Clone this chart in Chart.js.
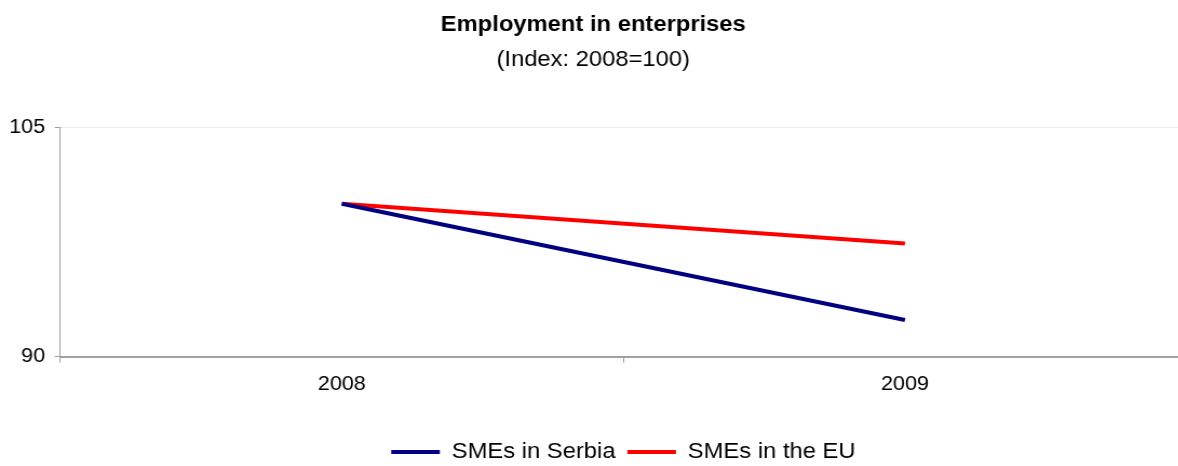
<!DOCTYPE html>
<html>
<head>
<meta charset="utf-8">
<script src="https://cdn.jsdelivr.net/npm/chart.js@4"></script>
<style>
  html, body { margin: 0; padding: 0; background: #fff; overflow: hidden; }
  #wrap { width: 1102px; height: 466px; transform: scaleX(1.08); transform-origin: 0 0; }
</style>
</head>
<body>
<div id="wrap"><canvas id="chart"></canvas></div>
<script>
/* ---------------- data ---------------- */
const years = ['2008', '2009'];
const serbia = [100, 92.4];
const eu = [100, 97.4];
const yTicks = [90, 105];

const font = "'Liberation Sans', Arial, sans-serif";
const ctx = document.getElementById('chart').getContext('2d');

const data = {
    labels: years,
    datasets: [
    {
        label: 'SMEs in Serbia',
        data: serbia,
        borderColor: '#000080',
        backgroundColor: '#000080',
        borderWidth: 4,
        pointRadius: 0,
        tension: 0
    },
    {
        label: 'SMEs in the EU',
        data: eu,
        borderColor: '#ff0000',
        backgroundColor: '#ff0000',
        borderWidth: 4,
        pointRadius: 0,
        tension: 0
    }]
};

const config = {
    type: 'line',
    data: data,
    options: {
        responsive: true,
        maintainAspectRatio: false,
        animation: false,
        layout: { padding: { left: 0, right: 3.4, top: 0, bottom: -7 } },
        scales: {
            x: {
                offset: true,
                afterFit: (s) => { s.height = 73.3; },
                grid: {
                    offset: true,
                    drawOnChartArea: false,
                    tickLength: 6,
                    tickColor: '#a0a0a0'
                },
                border: { color: '#a0a0a0', width: 2 },
                ticks: { color: '#000', padding: 10, font: { family: font, size: 20 } }
            },
            y: {
                min: 90,
                max: 105,
                afterBuildTicks: (axis) => { axis.ticks = yTicks.map(v => ({ value: v })); },
                afterFit: (s) => { s.width = 55.8; },
                grid: {
                    color: (c) => c.tick && c.tick.value === 105 ? '#eeeeee' : 'rgba(0,0,0,0)',
                    tickLength: 5,
                    tickColor: '#a0a0a0'
                },
                border: { color: '#a0a0a0', width: 1 },
                ticks: { color: '#000', padding: 9, font: { family: font, size: 20 } }
            }
        },
        plugins: {
            title: {
                display: true,
                text: 'Employment in enterprises',
                color: '#000',
                font: { family: font, size: 22, weight: 'bold' },
                padding: { top: 12, bottom: 8.4 }
            },
            subtitle: {
                display: true,
                text: '(Index: 2008=100)',
                color: '#000',
                font: { family: font, size: 22 },
                padding: { top: 0, bottom: 54 }
            },
            legend: {
                position: 'bottom',
                fullSize: false,
                labels: {
                    color: '#000',
                    boxWidth: 45,
                    boxHeight: 4,
                    padding: 11,
                    font: { family: font, size: 22 },
                    generateLabels: (chart) => Chart.defaults.plugins.legend.labels.generateLabels(chart)
                        .map(l => Object.assign(l, { lineWidth: 0 }))
                }
            },
            tooltip: { enabled: false }
        }
    }
};

const myChart = new Chart(ctx, config);
</script>
</body>
</html>
